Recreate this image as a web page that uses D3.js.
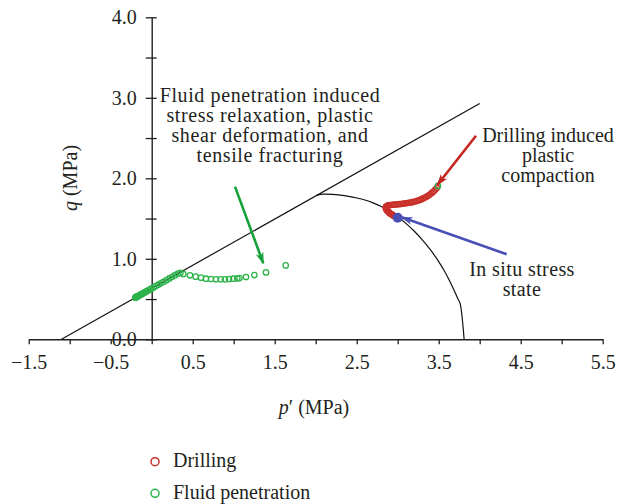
<!DOCTYPE html>
<html>
<head>
<meta charset="utf-8">
<script src="https://cdn.jsdelivr.net/npm/d3@7"></script>
<style>
  body { margin: 0; background: #fff; }
  svg { display: block; }
  text { font-family: "Liberation Serif", "Times New Roman", serif; fill: #231f20; }
</style>
</head>
<body>
<svg id="chart" width="625" height="504"></svg>
<script>
// Effective mean stress p' and deviatoric stress q (MPa) along the stress paths
const drillingP = [2.99, 2.98, 2.97, 2.96, 2.95, 2.94, 2.93, 2.92, 2.91, 2.90, 2.89, 2.88, 2.87, 2.865, 2.86, 2.855, 2.855, 2.86, 2.87, 2.88, 2.89, 2.90, 2.92, 2.94, 2.96, 2.98, 3.00, 3.02, 3.04, 3.06, 3.08, 3.10, 3.12, 3.14, 3.16, 3.18, 3.20, 3.22, 3.24, 3.26, 3.28, 3.30, 3.32, 3.34, 3.36, 3.38, 3.40, 3.42, 3.44, 3.46, 3.48];
const drillingQ = [1.515, 1.52, 1.525, 1.53, 1.535, 1.54, 1.55, 1.555, 1.56, 1.57, 1.58, 1.59, 1.60, 1.61, 1.62, 1.63, 1.64, 1.65, 1.655, 1.66, 1.665, 1.667, 1.669, 1.671, 1.673, 1.675, 1.677, 1.679, 1.681, 1.684, 1.687, 1.690, 1.693, 1.696, 1.700, 1.704, 1.709, 1.714, 1.720, 1.727, 1.735, 1.744, 1.754, 1.765, 1.777, 1.790, 1.805, 1.822, 1.840, 1.860, 1.882];

const fluidP = [3.49, 1.634, 1.394, 1.252, 1.150, 1.07, 1.044, 0.995, 0.943, 0.894, 0.841, 0.784, 0.723, 0.662, 0.601, 0.536, 0.467, 0.386, 0.35,
  0.32, 0.285, 0.25, 0.215, 0.18, 0.145, 0.11, 0.08, 0.05, 0.025, 0.0, -0.02, -0.04, -0.06, -0.08, -0.095, -0.11, -0.12, -0.13, -0.14, -0.15, -0.16, -0.17, -0.175, -0.18, -0.185, -0.19, -0.195, -0.2];
const fluidQ = [1.905, 0.918, 0.831, 0.798, 0.774, 0.760, 0.757, 0.753, 0.749, 0.745, 0.745, 0.745, 0.749, 0.753, 0.766, 0.778, 0.795, 0.811, 0.825,
  0.816, 0.796, 0.776, 0.756, 0.735, 0.715, 0.695, 0.678, 0.661, 0.646, 0.632, 0.620, 0.609, 0.598, 0.586, 0.577, 0.569, 0.563, 0.557, 0.552, 0.546, 0.540, 0.534, 0.531, 0.529, 0.526, 0.523, 0.520, 0.517];

// Shear failure line and compaction cap of the yield surface
const failureP = [-1.1, 4.0];
const failureQ = [0.0, 2.93];
const capP = [2.01, 2.10, 2.20, 2.30, 2.40, 2.50, 2.60, 2.70, 2.80, 2.90, 3.00, 3.10, 3.20, 3.30, 3.40, 3.50, 3.58, 3.65, 3.70, 3.74, 3.76, 3.81];
const capQ = [1.79, 1.803, 1.80, 1.79, 1.775, 1.755, 1.73, 1.695, 1.65, 1.595, 1.525, 1.44, 1.345, 1.235, 1.11, 0.965, 0.83, 0.69, 0.58, 0.49, 0.45, 0.0];

// In situ stress state
const inSituP = [3.0];
const inSituQ = [1.51];

// Axis ticks
const xTickValues = [-1.5, -1.0, -0.5, 0.0, 0.5, 1.0, 1.5, 2.0, 2.5, 3.0, 3.5, 4.0, 4.5, 5.0, 5.5];
const xTickLabels = ["\u22121.5", "", "\u22120.5", "", "0.5", "", "1.5", "", "2.5", "", "3.5", "", "4.5", "", "5.5"];
const yTickValues = [0.0, 0.5, 1.0, 1.5, 2.0, 2.5, 3.0, 3.5, 4.0];
const yTickLabels = ["0.0", "", "1.0", "", "2.0", "", "3.0", "", "4.0"];

const legendNames = ["Drilling", "Fluid penetration"];

const RED = "#c9302a", GREEN = "#2db34a", BLUE = "#4a4fb6";
const ARROW_GREEN = "#16a23a", ARROW_RED = "#c4261f";

const svg = d3.select("#chart");
const x = d3.scaleLinear().domain([-1.5, 5.5]).range([28.7, 602.7]);
const y = d3.scaleLinear().domain([0, 4]).range([339.3, 17.3]);

// arrow heads
const defs = svg.append("defs");
function marker(id, color) {
  defs.append("marker")
    .attr("id", id)
    .attr("viewBox", "0 0 12 8")
    .attr("refX", 11).attr("refY", 4)
    .attr("markerWidth", 12).attr("markerHeight", 8)
    .attr("markerUnits", "userSpaceOnUse")
    .attr("orient", "auto")
    .append("path")
    .attr("d", "M0,0 L12,4 L0,8 L3.5,4 Z")
    .attr("fill", color);
}
marker("headGreen", ARROW_GREEN);
marker("headRed", ARROW_RED);
marker("headBlue", BLUE);

// x axis
const xAxis = d3.axisBottom(x)
  .tickValues(xTickValues)
  .tickFormat((d, i) => xTickLabels[i])
  .tickSizeInner(5).tickSizeOuter(0).tickPadding(11);
const gx = svg.append("g").attr("transform", `translate(0,${y(0)})`).call(xAxis);
gx.select(".domain").attr("stroke", "#231f20").attr("stroke-width", 1.4);
gx.selectAll(".tick line").attr("stroke", "#231f20").attr("stroke-width", 1.3);
gx.selectAll(".tick text").attr("font-size", 20).attr("font-family", "Liberation Serif").attr("fill", "#231f20");

// y axis with ticks crossing the axis line
const yAxis = d3.axisLeft(y)
  .tickValues(yTickValues)
  .tickFormat((d, i) => yTickLabels[i])
  .tickSizeInner(6).tickSizeOuter(0).tickPadding(9);
const gy = svg.append("g").attr("transform", `translate(${x(0)},0)`).call(yAxis);
gy.select(".domain").attr("stroke", "#231f20").attr("stroke-width", 1.4);
gy.selectAll(".tick line").attr("stroke", "#231f20").attr("stroke-width", 1.3).attr("x2", 5).attr("x1", -6);
gy.selectAll(".tick text").attr("font-size", 20).attr("font-family", "Liberation Serif").attr("fill", "#231f20");

// axis titles
const xt = svg.append("text")
  .attr("x", 314).attr("y", 413.5)
  .attr("text-anchor", "middle").attr("font-size", 20);
xt.append("tspan").attr("font-style", "italic").text("p");
xt.append("tspan").text("\u2032 (MPa)");

const yt = svg.append("text")
  .attr("transform", "translate(77,178) rotate(-90)")
  .attr("text-anchor", "middle").attr("font-size", 20);
yt.append("tspan").attr("font-style", "italic").text("q");
yt.append("tspan").text(" (MPa)");

// failure line and cap
const line = d3.line().x(d => x(d[0])).y(d => y(d[1]));
svg.append("path")
  .datum(failureP.map((p, i) => [p, failureQ[i]]))
  .attr("d", line).attr("fill", "none").attr("stroke", "#111").attr("stroke-width", 1.2);
svg.append("path")
  .datum(capP.map((p, i) => [p, capQ[i]]))
  .attr("d", line.curve(d3.curveCatmullRom)).attr("fill", "none").attr("stroke", "#111").attr("stroke-width", 1.2);

// stress path points
svg.append("g").selectAll("circle")
  .data(drillingP.map((p, i) => [p, drillingQ[i]]))
  .join("circle")
  .attr("cx", d => x(d[0])).attr("cy", d => y(d[1])).attr("r", 2.6)
  .attr("fill", "none").attr("stroke", RED).attr("stroke-width", 1.4);

svg.append("g").selectAll("circle")
  .data(fluidP.map((p, i) => [p, fluidQ[i]]))
  .join("circle")
  .attr("cx", d => x(d[0])).attr("cy", d => y(d[1])).attr("r", 2.7)
  .attr("fill", "none").attr("stroke", GREEN).attr("stroke-width", 1.3);

// in situ stress state
svg.append("circle")
  .attr("cx", x(inSituP[0])).attr("cy", y(inSituQ[0])).attr("r", 5)
  .attr("fill", BLUE);

// annotation arrows (data coordinates)
function arrow(from, to, color, id) {
  svg.append("line")
    .attr("x1", x(from[0])).attr("y1", y(from[1]))
    .attr("x2", x(to[0])).attr("y2", y(to[1]))
    .attr("stroke", color).attr("stroke-width", 2.6)
    .attr("marker-end", `url(#${id})`);
}
arrow([1.016, 1.896], [1.361, 0.944], ARROW_GREEN, "headGreen");
arrow([3.955, 2.529], [3.483, 1.917], ARROW_RED, "headRed");
arrow([4.329, 1.056], [3.05, 1.515], BLUE, "headBlue");

// annotation texts
function note(lines, cx, baseline, spacing) {
  const t = svg.append("text").attr("text-anchor", "middle").attr("font-size", 20)
    .attr("letter-spacing", spacing);
  lines.forEach((s, i) => {
    t.append("tspan").attr("x", cx).attr("y", baseline + i * 20).text(s);
  });
}
note(["Fluid penetration induced", "stress relaxation, plastic", "shear deformation, and", "tensile fracturing"], 270, 101.7, 0.6);
note(["Drilling induced", "plastic", "compaction"], 548, 141.7, 0);
note(["In situ stress", "state"], 522, 276, 0.4);

// legend
const legend = svg.append("g");
[RED, GREEN].forEach((c, i) => {
  const cy = 461.7 + i * 31.6;
  legend.append("circle").attr("cx", 155).attr("cy", cy).attr("r", 4)
    .attr("fill", "none").attr("stroke", c).attr("stroke-width", 1.5);
  legend.append("text").attr("x", 173).attr("y", cy + 5.5).attr("font-size", 20).text(legendNames[i]);
});
</script>
</body>
</html>
